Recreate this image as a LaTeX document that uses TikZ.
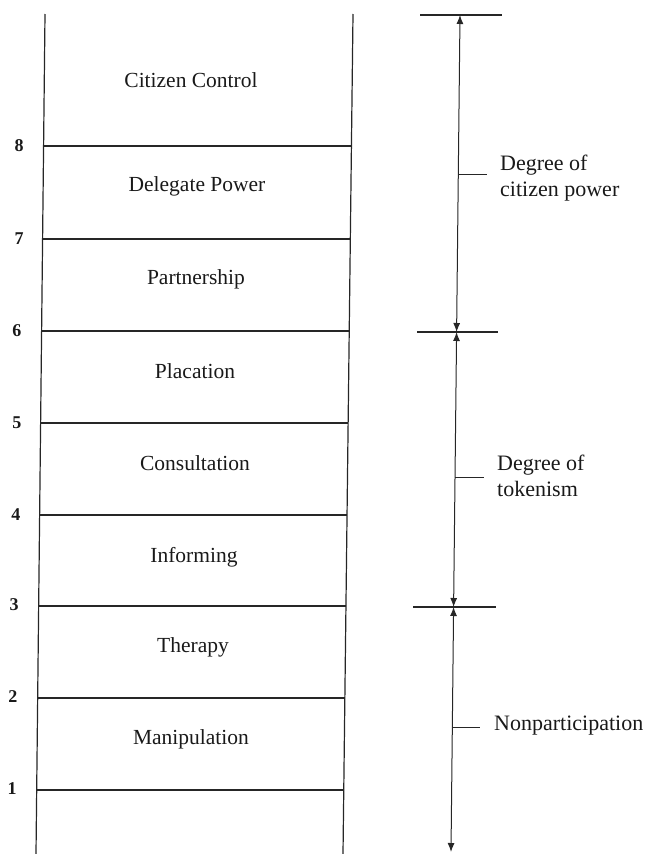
\documentclass[tikz,border=0pt]{standalone}
\usepackage{fontspec}
\setmainfont{Liberation Serif}
\usetikzlibrary{arrows.meta}
\begin{document}
\begin{tikzpicture}[x=1pt,y=-1pt,
  rail/.style={line width=1.2pt,draw=black!85},
  rung/.style={line width=1.3pt,draw=black!85},
  lbl/.style={font=\fontsize{21.5}{24}\selectfont,text=black!90,inner sep=0pt},
  num/.style={font=\fontsize{18}{20}\selectfont\bfseries,text=black!90,inner sep=0pt},
  scale line/.style={line width=1pt,draw=black!85,{Latex[length=9pt,width=7pt]}-{Latex[length=9pt,width=7pt]}},
  bar/.style={line width=1.3pt,draw=black!85},
  tick/.style={line width=1pt,draw=black!85},
  side/.style={font=\fontsize{22}{26}\selectfont,text=black!90,inner sep=0pt,align=left,anchor=west}]
\useasboundingbox (0,0) rectangle (645,854);
% rails
\coordinate (LT) at (45,14);
\coordinate (LB) at (36,854);
\coordinate (RT) at (353,14);
\coordinate (RB) at (343,854);
\draw[rail] (LT) -- (LB);
\draw[rail] (RT) -- (RB);
% rungs
\coordinate (l8) at (43.6,146); \coordinate (r8) at (351.4,146);
\coordinate (l7) at (42.6,239); \coordinate (r7) at (350.3,239);
\coordinate (l6) at (41.6,331); \coordinate (r6) at (349.2,331);
\coordinate (l5) at (40.6,423); \coordinate (r5) at (348.1,423);
\coordinate (l4) at (39.6,515); \coordinate (r4) at (347.0,515);
\coordinate (l3) at (38.7,606); \coordinate (r3) at (346.0,606);
\coordinate (l2) at (37.7,698); \coordinate (r2) at (344.9,698);
\coordinate (l1) at (36.7,790); \coordinate (r1) at (343.8,790);
\foreach \i in {1,...,8} { \draw[rung] (l\i) -- (r\i); }
% numbers
\node[num] (n8) at (19,146) {8};
\node[num] (n7) at (19,239) {7};
\node[num] (n6) at (17,331) {6};
\node[num] (n5) at (17,423) {5};
\node[num] (n4) at (16,515) {4};
\node[num] (n3) at (14,605) {3};
\node[num] (n2) at (13,697) {2};
\node[num] (n1) at (12,789) {1};
% rung labels
\node[lbl] (cc) at (191,80) {Citizen Control};
\node[lbl] (dp) at (197,186) {Delegate Power};
\node[lbl] (pa) at (196,279) {Partnership};
\node[lbl] (pl) at (195,371) {Placation};
\node[lbl] (co) at (195,463) {Consultation};
\node[lbl] (in) at (194,557) {Informing};
\node[lbl] (th) at (193,647) {Therapy};
\node[lbl] (ma) at (191,739) {Manipulation};
% scale
\coordinate (s0) at (460,15);
\coordinate (s1) at (456.6,332);
\coordinate (s2) at (453.6,607);
\coordinate (s3) at (451,852);
\draw[scale line] (s1) -- (s0);
\draw[scale line] (s2) -- (s1);
\draw[scale line] (s3) -- (s2);
\coordinate (b0l) at (420,15); \coordinate (b0r) at (502,15);
\coordinate (b1l) at (417,332); \coordinate (b1r) at (498,332);
\coordinate (b2l) at (413,607); \coordinate (b2r) at (496,607);
\draw[bar] (b0l) -- (b0r);
\draw[bar] (b1l) -- (b1r);
\draw[bar] (b2l) -- (b2r);
% ticks and labels
\coordinate (t1a) at (458.3,174); \coordinate (t1b) at (487,174);
\coordinate (t2a) at (455,477); \coordinate (t2b) at (484,477);
\coordinate (t3a) at (452.3,727); \coordinate (t3b) at (480,727);
\draw[tick] (t1a) -- (t1b);
\draw[tick] (t2a) -- (t2b);
\draw[tick] (t3a) -- (t3b);
\node[side] (cp) at (500,178) {Degree of\\citizen power};
\node[side] (tk) at (497,476) {Degree of\\tokenism};
\node[side] (np) at (494,726) {Nonparticipation};
\end{tikzpicture}
\end{document}
